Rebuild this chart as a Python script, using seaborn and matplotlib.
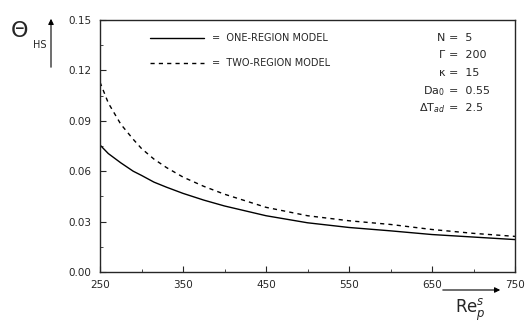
import matplotlib
matplotlib.use("Agg")
import matplotlib.pyplot as plt
import seaborn as sns
import pandas as pd
from matplotlib.ticker import MultipleLocator

re_vals = [250, 260, 275, 290, 300, 315, 330, 350, 375, 400, 450, 500, 550,
           600, 650, 700, 750]
one_region = [0.0756, 0.0705, 0.0650, 0.0600, 0.0575, 0.0535, 0.0505, 0.0468,
              0.0428, 0.0393, 0.0335, 0.0293, 0.0265, 0.0245, 0.0223, 0.0208, 0.0193]
two_region = [0.1130, 0.1006, 0.0880, 0.0790, 0.0735, 0.0672, 0.0622, 0.0565,
              0.0510, 0.0463, 0.0385, 0.0335, 0.0305, 0.0283, 0.0253, 0.0230, 0.0212]
models = ["ONE-REGION MODEL", "TWO-REGION MODEL"]
x_ticks = [250, 350, 450, 550, 650, 750]
y_ticks = [0.00, 0.03, 0.06, 0.09, 0.12, 0.15]
params = [("N", "5"), ("Γ", "200"), ("κ", "15"), ("Da$_0$", "0.55"), ("ΔT$_{ad}$", "2.5")]

df = pd.concat([
    pd.DataFrame({"Re": re_vals, "theta": one_region, "model": models[0]}),
    pd.DataFrame({"Re": re_vals, "theta": two_region, "model": models[1]}),
])

sns.set_style("ticks")
plt.rcParams['font.family'] = ['DejaVu Sans']

fig = plt.figure(figsize=(5.31, 3.23), dpi=100)
ax = fig.add_axes([100/531, 1-272/323, 415/531, 252/323])

sns.lineplot(data=df, x="Re", y="theta", style="model", color="black",
             dashes={models[0]: "", models[1]: (3, 3)}, linewidth=1.0,
             legend=False, ax=ax)

ax.set_xlim(250, 750)
ax.set_ylim(0, 0.15)
ax.set_xticks(x_ticks)
ax.set_yticks(y_ticks)
ax.set_xticklabels([str(v) for v in x_ticks])
ax.set_yticklabels([f"{v:.2f}" for v in y_ticks])
ax.xaxis.set_minor_locator(MultipleLocator(50))
ax.yaxis.set_minor_locator(MultipleLocator(0.015))
ax.tick_params(direction="in", which="major", length=4, width=0.8, labelsize=7.5, pad=6)
ax.tick_params(direction="in", which="minor", length=2, width=0.6)
for s in ax.spines.values():
    s.set_visible(True)
    s.set_linewidth(1.0)
ax.set_xlabel("")
ax.set_ylabel("")

# legend (hand-drawn)
ax.plot([0.12, 0.25], [0.93, 0.93], transform=ax.transAxes, color="black", lw=1.0)
ax.plot([0.12, 0.25], [0.83, 0.83], transform=ax.transAxes, color="black", lw=1.0,
        dashes=(3, 3))
ax.text(0.27, 0.93, "=  " + models[0], transform=ax.transAxes, fontsize=7,
        va="center", ha="left")
ax.text(0.27, 0.83, "=  " + models[1], transform=ax.transAxes, fontsize=7,
        va="center", ha="left")

# parameter block
ys = [38, 55, 73, 91, 108]
for (name, val), yp in zip(params, ys):
    fig.text(445/531, 1-yp/323, name, ha="right", va="center", fontsize=8)
    fig.text(449/531, 1-yp/323, "=  " + val, ha="left", va="center", fontsize=8)

# y-axis label with arrow
fig.text(20/531, 1-31/323, "Θ", fontsize=16, ha="center", va="center")
fig.text(40/531, 1-45/323, "HS", fontsize=7, ha="center", va="center")
fig.add_artist(matplotlib.patches.FancyArrowPatch((51/531, 1-70/323), (51/531, 1-16/323),
               transform=fig.transFigure, arrowstyle="-|>", mutation_scale=8,
               color="black", lw=0.8))

# x-axis label with arrow
fig.text(470/531, 1-310/323, "Re$_p^s$", fontsize=12, ha="center", va="center")
fig.add_artist(matplotlib.patches.FancyArrowPatch((440/531, 1-290/323), (503/531, 1-290/323),
               transform=fig.transFigure, arrowstyle="-|>", mutation_scale=8,
               color="black", lw=0.8))

fig.savefig("out.png", dpi=100)
